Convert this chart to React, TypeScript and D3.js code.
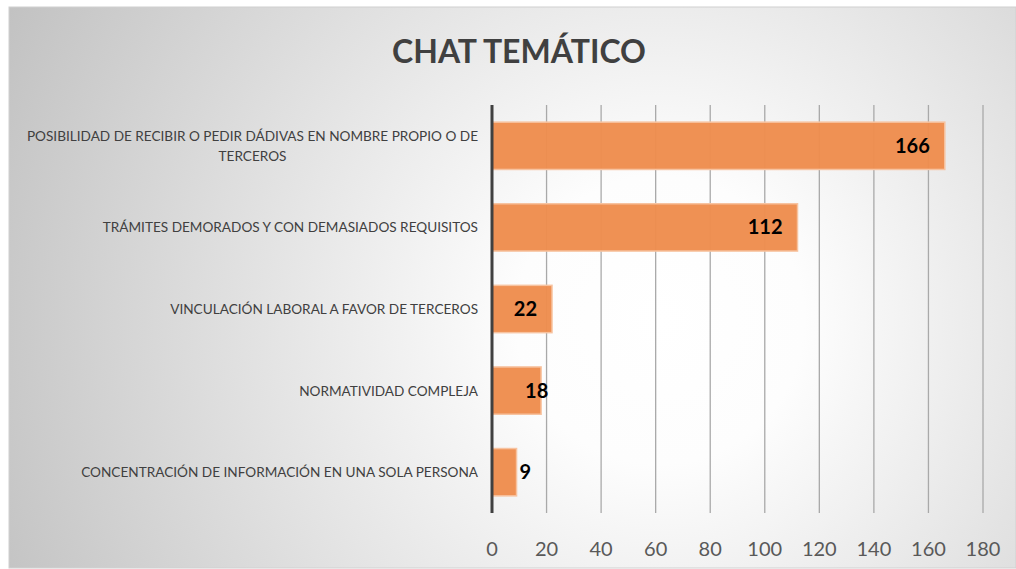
import React, { useEffect, useRef } from "react";
import * as d3 from "d3";

const categories = [
  "POSIBILIDAD DE RECIBIR O PEDIR DÁDIVAS EN NOMBRE PROPIO O DE|TERCEROS",
  "TRÁMITES DEMORADOS Y CON DEMASIADOS REQUISITOS",
  "VINCULACIÓN LABORAL A FAVOR DE TERCEROS",
  "NORMATIVIDAD COMPLEJA",
  "CONCENTRACIÓN DE INFORMACIÓN EN UNA SOLA PERSONA",
];
const values = [166, 112, 22, 18, 9];
const xTicks = [0, 20, 40, 60, 80, 100, 120, 140, 160, 180];
const title = "CHAT TEMÁTICO";

const W = 1016;
const H = 569;
const FONT = "Lato, 'Open Sans', sans-serif";

export default function App() {
  const ref = useRef<SVGSVGElement>(null);

  useEffect(() => {
    const svg = d3.select(ref.current);
    svg.selectAll("*").remove();

    const defs = svg.append("defs");
    const grad = defs
      .append("radialGradient")
      .attr("id", "bg")
      .attr("gradientUnits", "userSpaceOnUse")
      .attr("cx", 660)
      .attr("cy", 320)
      .attr("r", 720);
    grad.append("stop").attr("offset", "0").attr("stop-color", "#ffffff");
    grad.append("stop").attr("offset", "0.2").attr("stop-color", "#fdfdfd");
    grad.append("stop").attr("offset", "1").attr("stop-color", "#c2c2c2");

    svg.append("rect").attr("width", W).attr("height", H).attr("fill", "#ffffff");
    svg
      .append("rect")
      .attr("x", 9)
      .attr("y", 7)
      .attr("width", W - 9)
      .attr("height", 561)
      .attr("fill", "url(#bg)")
      .attr("stroke", "#d0d0d0")
      .attr("stroke-width", 1);

    const x0 = 492;
    const x = d3.scaleLinear().domain([0, 180]).range([x0, 983]);
    const y = d3
      .scaleBand<number>()
      .domain(d3.range(values.length))
      .range([105, 513])
      .paddingInner(0.42)
      .paddingOuter(0.21);

    // title
    svg
      .append("text")
      .attr("x", 519)
      .attr("y", 63)
      .attr("text-anchor", "middle")
      .attr("font-family", FONT)
      .attr("font-weight", "bold")
      .attr("font-size", 32)
      .attr("fill", "#404040")
      .text(title);

    // gridlines
    svg
      .append("g")
      .selectAll("line")
      .data(xTicks.filter((t) => t > 0))
      .join("line")
      .attr("x1", (d) => x(d))
      .attr("x2", (d) => x(d))
      .attr("y1", 105)
      .attr("y2", 513)
      .attr("stroke", "#a9a9a9")
      .attr("stroke-width", 1.3);

    // bars
    svg
      .append("g")
      .selectAll("rect")
      .data(values)
      .join("rect")
      .attr("x", x0)
      .attr("y", (_, i) => y(i)!)
      .attr("width", (d) => x(d) - x0)
      .attr("height", y.bandwidth())
      .attr("fill", "#ee8d4e")
      .attr("fill-opacity", 0.97)
      .attr("stroke", "#f7c3a0")
      .attr("stroke-width", 1.5);

    // axis line
    svg
      .append("line")
      .attr("x1", x0)
      .attr("x2", x0)
      .attr("y1", 105)
      .attr("y2", 513)
      .attr("stroke", "#404040")
      .attr("stroke-width", 3);

    // tick labels
    svg
      .append("g")
      .selectAll("text")
      .data(xTicks)
      .join("text")
      .attr("x", (d) => x(d))
      .attr("y", 556)
      .attr("text-anchor", "middle")
      .attr("font-family", FONT)
      .attr("font-size", 20)
      .attr("fill", "#595959")
      .text((d) => String(d));

    // value labels
    values.forEach((v, i) => {
      const bw = x(v) - x0;
      const cy = y(i)! + y.bandwidth() / 2;
      const t = svg
        .append("text")
        .attr("y", cy + 7)
        .attr("font-family", FONT)
        .attr("font-weight", "bold")
        .attr("font-size", 20)
        .attr("fill", "#000000")
        .text(String(v));
      if (bw > 55) {
        t.attr("x", x(v) - 15).attr("text-anchor", "end");
      } else if (bw > 40) {
        t.attr("x", x(v) - 16).attr("text-anchor", "start");
      } else {
        t.attr("x", x(v) + 3).attr("text-anchor", "start");
      }
    });

    // category labels
    categories.forEach((c, i) => {
      const lines = c.split("|");
      const cy = y(i)! + y.bandwidth() / 2;
      const lh = 20;
      const g = svg.append("g");
      const texts = lines.map((ln, k) =>
        g
          .append("text")
          .attr("y", cy + 5 + (k - (lines.length - 1) / 2) * lh)
          .attr("font-family", FONT)
          .attr("font-size", 13.6)
          .attr("fill", "#404040")
          .text(ln)
      );
      const widths = texts.map((t) => (t.node() as SVGTextElement).getComputedTextLength());
      const maxW = Math.max(...widths);
      const center = 478 - maxW / 2;
      texts.forEach((t) => t.attr("x", center).attr("text-anchor", "middle"));
    });
  }, []);

  return (
    <svg
      ref={ref}
      width={W}
      height={H}
      style={{ position: "absolute", left: 0, top: 0, display: "block" }}
    />
  );
}
